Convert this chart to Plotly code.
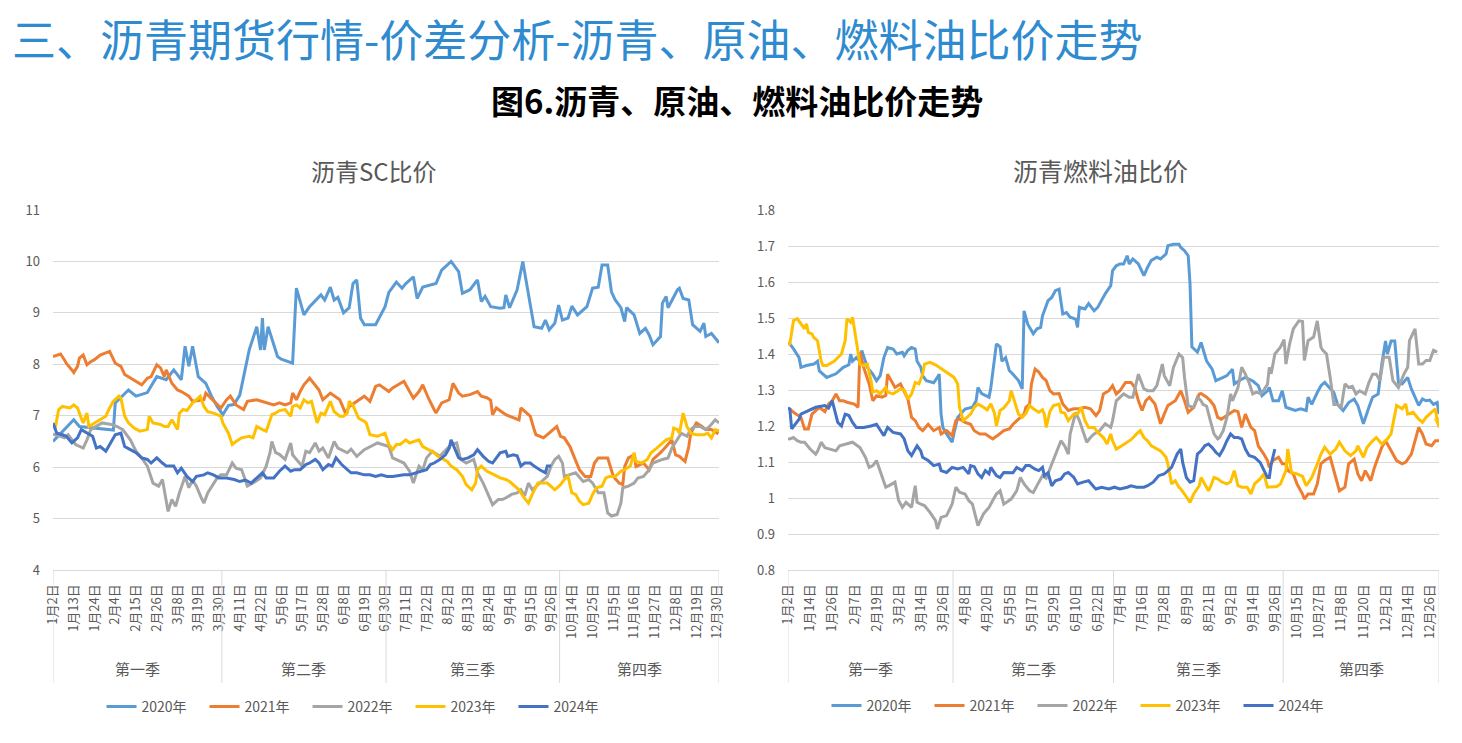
import datetime as dt
import plotly.graph_objects as go

# ---------------- text ----------------
MAIN_TITLE = "三、沥青期货行情-价差分析-沥青、原油、燃料油比价走势"
FIG_TITLE = "图6.沥青、原油、燃料油比价走势"
CHART_TITLES = ["沥青SC比价", "沥青燃料油比价"]
YEARS = ["2020年", "2021年", "2022年", "2023年", "2024年"]
QUARTERS = ["第一季", "第二季", "第三季", "第四季"]

# calendar of categories (2024 calendar, market holidays left out)
YEAR = 2024
FIRST_DAY = (1, 2)
LAST_DAY = (12, 31)
CLOSED_DAYS = [(4, 4), (5, 1), (5, 2), (5, 3),
               (10, 1), (10, 2), (10, 3), (10, 4), (10, 5), (10, 6), (10, 7)]
SC_TICK_EVERY = 11
FO_TICK_EVERY = 12

SC_YTICKS = [4, 5, 6, 7, 8, 9, 10, 11]
FO_YTICKS = [0.8, 0.9, 1.0, 1.1, 1.2, 1.3, 1.4, 1.5, 1.6, 1.7, 1.8]
FO_YTEXT = ["0.8", "0.9", "1", "1.1", "1.2", "1.3", "1.4", "1.5", "1.6", "1.7", "1.8"]

# ---------------- data: (category day number, value) ----------------
SC_2020 = [(0,6.50),(11,6.92),(14,6.79),(32,6.72),(33,7.25),(40,7.50),(44,7.38),(50,7.45),(55,7.76),(60,7.70),
           (64,7.89),(68,7.70),(70,8.35),(72,7.96),(74,8.35),(77,7.76),(81,7.63),(84,7.38),(87,7.18),(90,7.02),
           (93,7.20),(96,7.22),(99,7.40),(104,8.28),(108,8.73),(110,8.28),(111,8.90),(112,8.28),(114,8.73),(116,8.50),
           (119,8.15),(121,8.10),(127,8.02),(129,9.48),(133,8.96),(136,9.12),(142,9.35),(144,9.25),(147,9.50),(149,9.25),
           (151,9.30),(154,9.00),(157,9.10),(159,9.57),(161,9.64),(163,8.90),(165,8.77),(171,8.77),(176,9.12),(178,9.40),
           (182,9.60),(185,9.48),(187,9.57),(191,9.70),(193,9.28),(196,9.50),(203,9.57),(206,9.83),(211,10.0),(215,9.80),
           (217,9.38),(221,9.45),(225,9.64),(227,9.22),(229,9.32),(232,9.12),(237,9.09),(239,9.10),(240,9.35),(242,9.10),
           (246,9.45),(249,10.0),(254,9.00),(255,8.73),(259,8.70),(261,8.86),(263,8.67),(266,8.80),(268,9.15),(270,8.86),
           (273,8.90),(275,9.13),(278,8.96),(283,9.12),(286,9.48),(289,9.50),(291,9.93),(294,9.93),(296,9.41),(298,9.25),
           (301,9.10),(303,8.83),(304,9.10),(308,8.96),(311,8.60),(314,8.70),(316,8.57),(318,8.38),(322,8.54),(323,9.19),
           (325,9.32),(326,9.10),(331,9.45),(332,9.48),(334,9.28),(337,9.25),(339,8.77),(343,8.64),(345,8.80),(346,8.54),
           (349,8.60),(353,8.42)]
SC_2021 = [(0,8.15),(2,8.18),(4,8.20),(6,8.09),(7,8.02),(10,7.89),(11,7.84),(13,7.96),(14,8.12),(16,8.18),(18,7.99),
           (20,8.05),(22,8.09),(25,8.18),(28,8.22),(30,8.25),(33,8.02),(36,7.96),(38,7.80),(41,7.73),(44,7.67),
           (47,7.60),(50,7.73),(52,7.76),(55,7.99),(57,7.93),(59,7.76),(60,7.89),(63,7.63),(66,7.50),(68,7.47),
           (72,7.38),(74,7.28),(80,7.31),(81,7.44),(89,7.15),(92,7.31),(94,7.38),(97,7.21),(101,7.12),(103,7.28),
           (108,7.31),(117,7.21),(120,7.25),(123,7.21),(126,7.25),(127,7.44),(129,7.31),(131,7.47),(133,7.60),(136,7.73),
           (138,7.63),(141,7.50),(143,7.31),(147,7.44),(152,7.31),(155,7.05),(157,7.18),(161,7.28),(165,7.38),(168,7.28),
           (171,7.57),(173,7.60),(178,7.47),(180,7.54),(186,7.67),(191,7.34),(194,7.47),(196,7.60),(199,7.34),(202,7.12),
           (203,7.05),(206,7.25),(210,7.31),(212,7.63),(215,7.44),(217,7.38),(221,7.41),(225,7.47),(227,7.38),(230,7.35),
           (232,7.30),(233,7.02),(235,7.15),(240,7.02),(247,6.92),(248,7.15),(253,6.99),(255,6.73),(256,6.63),(260,6.57),
           (263,6.66),(267,6.79),(269,6.60),(271,6.57),(274,6.40),(277,6.15),(279,5.95),(282,5.82),(285,5.82),(287,6.08),
           (289,6.18),(294,6.18),(297,5.82),(300,5.69),(302,5.66),(303,6.01),(305,6.18),(308,6.24),(309,6.01),(313,6.08),
           (316,5.95),(318,6.15),(322,6.28),(325,6.40),(328,6.53),(330,6.24),(332,6.21),(335,6.11),(337,6.40),(338,6.66),
           (341,6.86),(344,6.79),(346,6.73),(349,6.73),(352,6.66),(353,6.73)]
SC_2022 = [(0,6.65),(1,6.63),(4,6.60),(6,6.57),(8,6.63),(10,6.53),(12,6.44),(16,6.37),(18,6.53),(20,6.73),(26,6.86),
           (31,6.83),(34,6.79),(37,6.73),(41,6.53),(44,6.31),(47,6.18),(50,6.02),(53,5.69),(56,5.63),(58,5.76),
           (61,5.14),(63,5.37),(65,5.24),(67,5.50),(70,5.82),(72,5.60),(74,5.75),(76,5.63),(79,5.37),(80,5.30),
           (82,5.50),(85,5.66),(87,5.79),(89,5.85),(92,5.85),(95,6.08),(97,5.98),(100,5.95),(103,5.63),(106,5.69),
           (110,5.79),(113,6.02),(115,6.28),(116,6.50),(118,6.28),(120,6.25),(123,6.15),(126,6.47),(127,6.24),(132,6.02),
           (134,6.31),(136,6.28),(139,6.47),(141,6.31),(143,6.37),(146,6.18),(149,6.50),(151,6.37),(156,6.28),(158,6.35),
           (161,6.21),(165,6.34),(172,6.47),(178,6.40),(180,6.18),(186,6.08),(189,5.92),(191,5.69),(194,6.02),(196,5.95),
           (198,6.18),(201,6.31),(205,6.21),(211,6.44),(214,6.47),(216,6.15),(219,6.08),(223,6.15),(225,5.89),(228,5.69),
           (232,5.34),(233,5.27),(236,5.37),(238,5.37),(240,5.40),(243,5.47),(246,5.50),(248,5.56),(250,5.44),(252,5.69),
           (254,5.56),(259,5.72),(262,5.82),(264,6.02),(266,6.15),(268,6.21),(270,6.08),(271,5.82),(277,5.89),(281,5.72),
           (284,5.76),(286,5.69),(289,5.50),(292,5.50),(294,5.11),(296,5.05),(299,5.08),(301,5.30),(302,5.60),(305,5.63),
           (308,5.69),(310,5.79),(313,5.82),(316,5.95),(318,6.08),(323,6.15),(326,6.18),(328,6.37),(331,6.53),(333,6.66),
           (336,6.60),(338,6.73),(340,6.79),(343,6.79),(346,6.73),(348,6.79),(351,6.92),(353,6.86)]
SC_2023 = [(1,6.73),(3,7.12),(5,7.18),(9,7.15),(11,7.21),(13,7.15),(15,6.95),(16,6.86),(18,7.05),(19,6.79),(22,6.86),
           (28,6.99),(30,7.15),(32,7.28),(35,7.38),(36,7.34),(38,6.99),(40,6.86),(43,6.76),(46,6.70),(50,6.73),
           (51,6.99),(53,6.86),(57,6.83),(59,6.79),(61,6.79),(63,6.92),(66,6.73),(67,7.05),(69,7.12),(71,7.10),
           (73,7.21),(74,7.25),(76,7.31),(78,7.38),(80,7.18),(82,7.08),(85,7.05),(89,6.99),(90,6.86),(93,6.66),
           (95,6.44),(97,6.50),(100,6.57),(104,6.60),(106,6.57),(108,6.79),(111,6.73),(113,6.70),(116,7.02),(118,7.05),
           (120,7.10),(123,7.12),(126,6.99),(127,7.18),(129,7.21),(131,7.15),(133,7.31),(135,7.25),(137,7.28),(140,6.86),
           (142,7.05),(144,7.02),(147,7.28),(149,7.08),(152,6.99),(154,6.99),(156,7.05),(157,7.28),(159,7.20),(162,6.95),
           (165,6.89),(166,6.86),(168,6.63),(172,6.60),(176,6.66),(178,6.44),(180,6.34),(182,6.44),(184,6.44),(187,6.53),
           (189,6.47),(191,6.50),(194,6.53),(196,6.40),(199,6.34),(202,6.28),(204,6.21),(209,6.11),(211,6.02),(214,5.95),
           (217,5.82),(219,5.66),(222,5.56),(224,5.69),(225,5.95),(227,6.02),(230,5.92),(232,5.89),(234,5.85),(237,5.79),
           (240,5.76),(242,5.72),(245,5.63),(247,5.56),(249,5.44),(252,5.30),(254,5.47),(257,5.69),(262,5.69),(264,5.63),
           (266,5.56),(269,5.66),(271,5.76),(273,5.82),(275,5.50),(277,5.47),(279,5.34),(281,5.27),(284,5.30),(286,5.47),
           (288,5.60),(291,5.63),(293,5.79),(295,5.82),(298,5.82),(301,5.92),(303,5.95),(306,6.02),(308,6.28),(309,6.11),
           (312,6.08),(315,6.15),(317,6.28),(320,6.37),(323,6.47),(325,6.53),(328,6.57),(329,6.76),(331,6.73),(332,6.66),
           (334,7.05),(336,6.79),(338,6.66),(341,6.63),(345,6.63),(347,6.66),(349,6.57),(351,6.73),(353,6.70)]
SC_2024 = [(0,6.86),(2,6.66),(5,6.63),(7,6.60),(10,6.47),(13,6.57),(15,6.73),(18,6.66),(21,6.60),(23,6.37),(25,6.40),
           (28,6.31),(30,6.44),(33,6.63),(36,6.66),(38,6.40),(41,6.34),(44,6.28),(47,6.18),(50,6.15),(52,6.08),
           (55,6.18),(58,6.08),(60,6.02),(64,6.02),(66,5.89),(68,5.98),(71,5.82),(74,5.72),(76,5.82),(80,5.85),
           (82,5.89),(85,5.85),(88,5.79),(92,5.79),(96,5.76),(99,5.72),(102,5.75),(105,5.69),(108,5.79),(111,5.89),
           (113,5.79),(117,5.79),(120,5.92),(123,6.02),(126,5.92),(128,5.95),(131,5.95),(134,6.05),(136,6.08),(139,6.15),
           (141,6.08),(143,5.95),(146,6.05),(148,6.02),(150,6.18),(153,6.05),(156,5.95),(158,5.89),(161,5.89),(165,5.85),
           (168,5.85),(171,5.82),(174,5.85),(177,5.82),(180,5.82),(186,5.85),(189,5.85),(192,5.89),(195,5.92),(198,5.95),
           (200,6.05),(202,6.08),(205,6.15),(208,6.24),(210,6.37),(211,6.53),(213,6.37),(215,6.18),(217,6.15),(220,6.18),
           (223,6.24),(225,6.34),(228,6.21),(231,6.11),(233,6.08),(236,6.24),(237,6.28),(240,6.31),(241,6.21),(244,6.24),
           (246,6.22),(248,6.02),(250,6.08),(253,6.08),(255,6.02),(258,5.95),(261,5.89),(262,6.02),(264,6.02)]

FO_2020 = [(0,1.43),(1,1.428),(3,1.414),(6,1.39),(7,1.363),(10,1.368),(14,1.372),(16,1.38),(17,1.353),(21,1.335),
           (26,1.345),(30,1.363),(33,1.37),(34,1.40),(35,1.38),(37,1.39),(39,1.38),(40,1.41),(43,1.363),(46,1.344),
           (48,1.326),(50,1.34),(52,1.39),(54,1.418),(57,1.414),(59,1.40),(62,1.405),(63,1.395),(65,1.41),(67,1.418),
           (69,1.414),(70,1.38),(72,1.363),(73,1.34),(75,1.326),(79,1.32),(81,1.335),(82,1.344),(83,1.233),(84,1.196),
           (86,1.178),(89,1.155),(90,1.18),(92,1.224),(96,1.247),(100,1.252),(102,1.27),(103,1.307),(105,1.29),(109,1.28),
           (110,1.307),(111,1.344),(113,1.428),(115,1.42),(116,1.38),(118,1.39),(120,1.354),(122,1.344),(125,1.326),
           (127,1.303),(128,1.52),(130,1.483),(133,1.456),(135,1.47),(137,1.474),(138,1.506),(141,1.548),(143,1.557),
           (145,1.576),(147,1.58),(149,1.511),(151,1.515),(153,1.502),(156,1.497),(157,1.474),(158,1.53),(161,1.525),
           (163,1.54),(166,1.52),(168,1.53),(172,1.567),(175,1.59),(176,1.632),(178,1.645),(180,1.65),(182,1.65),
           (184,1.673),(185,1.65),(187,1.664),(190,1.65),(193,1.618),(195,1.641),(197,1.66),(200,1.669),(202,1.664),
           (205,1.678),(206,1.701),(209,1.705),(212,1.705),(213,1.696),(215,1.687),(217,1.673),(218,1.595),(219,1.42),
           (222,1.405),(224,1.432),(227,1.38),(230,1.358),(232,1.326),(236,1.335),(238,1.34),(241,1.358),(242,1.317),
           (246,1.33),(248,1.335),(252,1.325),(255,1.312),(257,1.284),(260,1.298),(261,1.307),(263,1.27),(266,1.27),
           (268,1.298),(270,1.252),(272,1.248),(275,1.243),(278,1.248),(281,1.243),(282,1.28),(284,1.26),(287,1.293),
           (289,1.312),(291,1.321),(293,1.31),(296,1.293),(298,1.26),(301,1.243),(304,1.265),(307,1.275),(309,1.257),
           (312,1.206),(315,1.252),(317,1.28),(320,1.289),(322,1.372),(324,1.436),(325,1.40),(327,1.436),(329,1.436),
           (331,1.321),(333,1.317),(336,1.335),(338,1.303),(342,1.257),(344,1.275),(346,1.27),(348,1.272),(350,1.26),
           (352,1.265),(353,1.233)]
FO_2021 = [(0,1.25),(1,1.247),(3,1.238),(7,1.224),(9,1.192),(11,1.192),(13,1.233),(15,1.243),(17,1.252),(20,1.24),
           (22,1.261),(24,1.27),(26,1.289),(28,1.27),(30,1.27),(32,1.266),(36,1.261),(38,1.252),(39,1.405),(41,1.363),
           (44,1.317),(46,1.27),(48,1.284),(51,1.28),(53,1.285),(54,1.344),(56,1.326),(58,1.307),(61,1.317),(63,1.298),
           (65,1.275),(67,1.224),(69,1.215),(71,1.196),(73,1.187),(76,1.205),(79,1.187),(82,1.196),(83,1.178),(86,1.187),
           (89,1.173),(91,1.215),(93,1.22),(96,1.21),(99,1.205),(101,1.187),(104,1.178),(107,1.178),(110,1.169),
           (111,1.164),(114,1.175),(117,1.187),(120,1.192),(122,1.205),(125,1.219),(128,1.233),(129,1.252),(131,1.261),
           (132,1.317),(134,1.358),(136,1.35),(138,1.335),(140,1.326),(142,1.298),(144,1.289),(147,1.29),(149,1.261),
           (152,1.243),(155,1.248),(158,1.248),(161,1.252),(164,1.248),(167,1.229),(169,1.243),(171,1.289),(174,1.298),
           (176,1.312),(178,1.289),(180,1.298),(183,1.321),(186,1.321),(188,1.307),(190,1.27),(192,1.243),(194,1.27),
           (196,1.28),(199,1.261),(202,1.206),(204,1.233),(206,1.257),(210,1.27),(213,1.298),(215,1.27),(217,1.238),
           (220,1.252),(223,1.289),(224,1.29),(227,1.28),(229,1.27),(231,1.257),(233,1.224),(235,1.219),(239,1.233),
           (242,1.243),(244,1.24),(246,1.196),(248,1.233),(251,1.196),(253,1.187),(255,1.145),(258,1.122),(260,1.104),
           (261,1.085),(263,1.104),(266,1.113),(268,1.095),(270,1.095),(271,1.076),(274,1.067),(276,1.039),(279,1.011),
           (280,0.997),(282,1.011),(285,1.011),(287,1.039),(289,1.095),(291,1.104),(294,1.113),(297,1.057),(299,1.02),
           (302,1.03),(304,1.095),(307,1.108),(309,1.067),(311,1.048),(313,1.076),(316,1.048),(318,1.085),(322,1.141),
           (324,1.159),(326,1.141),(330,1.104),(333,1.095),(335,1.10),(338,1.122),(342,1.196),(344,1.178),(346,1.15),
           (349,1.145),(351,1.159),(353,1.159)]
FO_2022 = [(0,1.165),(1,1.164),(3,1.168),(5,1.159),(7,1.155),(9,1.155),(12,1.136),(15,1.122),(16,1.13),(18,1.155),
           (20,1.14),(23,1.136),(26,1.131),(28,1.145),(32,1.15),(35,1.155),(39,1.14),(42,1.113),(44,1.085),(46,1.09),
           (48,1.104),(53,1.03),(55,1.035),(58,1.044),(60,0.993),(62,0.974),(64,0.988),(67,0.974),(69,1.034),(70,0.988),
           (72,0.983),(74,0.979),(77,0.96),(80,0.937),(81,0.914),(83,0.946),(86,0.951),(89,0.983),(91,1.03),(93,1.016),
           (96,1.011),(98,0.993),(100,0.983),(103,0.923),(106,0.956),(109,0.974),(111,0.993),(113,1.011),(115,1.02),
           (117,0.983),(121,0.997),(124,1.02),(126,1.057),(128,1.039),(131,1.02),(133,1.015),(136,1.044),(138,1.062),
           (140,1.055),(143,1.094),(145,1.122),(147,1.15),(148,1.159),(150,1.145),(152,1.122),(153,1.178),(155,1.224),
           (156,1.238),(158,1.215),(160,1.187),(162,1.155),(164,1.168),(166,1.178),(169,1.187),(172,1.206),(175,1.196),
           (176,1.215),(178,1.27),(180,1.28),(182,1.289),(185,1.28),(187,1.28),(190,1.344),(193,1.303),(195,1.298),
           (198,1.298),(200,1.312),(203,1.372),(204,1.34),(207,1.312),(209,1.363),(212,1.40),(214,1.39),(215,1.335),
           (217,1.256),(220,1.252),(222,1.28),(224,1.27),(225,1.26),(227,1.255),(229,1.215),(231,1.178),(233,1.164),
           (234,1.168),(236,1.187),(238,1.224),(240,1.289),(241,1.27),(244,1.307),(246,1.363),(248,1.344),(250,1.321),
           (252,1.289),(254,1.294),(256,1.29),(258,1.30),(260,1.316),(261,1.363),(262,1.345),(264,1.40),(267,1.419),
           (269,1.44),(270,1.372),(272,1.428),(274,1.47),(277,1.492),(279,1.49),(280,1.382),(282,1.437),(285,1.447),
           (287,1.492),(289,1.419),(290,1.41),(292,1.40),(294,1.335),(296,1.26),(298,1.26),(300,1.252),(302,1.317),
           (304,1.307),(306,1.31),(308,1.289),(310,1.298),(313,1.289),(315,1.321),(317,1.344),(319,1.344),(321,1.326),
           (323,1.391),(326,1.391),(328,1.326),(331,1.307),(334,1.344),(336,1.363),(337,1.437),(340,1.47),(342,1.372),
           (344,1.372),(346,1.382),(348,1.382),(350,1.41),(352,1.405)]
FO_2023 = [(0,1.425),(1,1.428),(3,1.493),(5,1.498),(7,1.484),(9,1.47),(10,1.484),(11,1.46),(13,1.456),(14,1.446),
           (16,1.437),(17,1.41),(18,1.38),(19,1.368),(21,1.368),(25,1.38),(29,1.40),(31,1.437),(32,1.498),(34,1.488),
           (35,1.502),(37,1.437),(39,1.372),(41,1.368),(43,1.372),(45,1.326),(46,1.294),(48,1.298),(50,1.289),(53,1.307),
           (54,1.294),(57,1.289),(61,1.303),(63,1.30),(65,1.275),(67,1.289),(69,1.321),(71,1.317),(73,1.344),(74,1.372),
           (77,1.377),(80,1.37),(82,1.363),(85,1.354),(88,1.344),(90,1.335),(92,1.317),(93,1.252),(95,1.215),(97,1.224),
           (99,1.233),(101,1.252),(103,1.261),(106,1.252),(108,1.245),(110,1.262),(112,1.235),(113,1.20),(115,1.243),
           (117,1.25),(120,1.27),(121,1.298),(123,1.266),(125,1.233),(127,1.224),(129,1.235),(131,1.257),(133,1.248),
           (136,1.238),(138,1.245),(139,1.233),(140,1.196),(142,1.24),(144,1.257),(147,1.261),(148,1.238),(150,1.236),
           (152,1.215),(155,1.233),(157,1.233),(159,1.252),(161,1.215),(163,1.196),(166,1.196),(168,1.182),(171,1.168),
           (173,1.15),(175,1.178),(176,1.159),(178,1.136),(181,1.145),(184,1.155),(186,1.162),(189,1.178),(191,1.187),
           (193,1.168),(195,1.159),(197,1.145),(199,1.14),(202,1.131),(205,1.113),(206,1.094),(208,1.039),(210,1.048),
           (212,1.03),(213,1.025),(215,1.011),(218,0.988),(220,1.011),(223,1.034),(224,1.057),(226,1.039),(228,1.02),
           (229,1.03),(231,1.057),(233,1.053),(235,1.045),(238,1.039),(240,1.045),(242,1.076),(244,1.034),(246,1.03),
           (249,1.03),(251,1.011),(253,1.039),(256,1.053),(258,1.067),(260,1.03),(262,1.03),(265,1.032),(267,1.039),
           (270,1.076),(271,1.136),(273,1.071),(276,1.067),(279,1.06),(281,1.034),(284,1.057),(287,1.094),(289,1.122),
           (291,1.141),(294,1.122),(297,1.136),(299,1.155),(302,1.131),(305,1.118),(308,1.131),(309,1.145),(312,1.113),
           (314,1.141),(317,1.159),(319,1.168),(322,1.15),(325,1.164),(327,1.178),(330,1.257),(333,1.248),(335,1.261),
           (336,1.233),(339,1.238),(342,1.219),(344,1.21),(346,1.224),(349,1.238),(351,1.248),(352,1.215),(353,1.196)]
FO_2024 = [(0,1.25),(1,1.247),(2,1.192),(4,1.205),(6,1.219),(7,1.233),(11,1.243),(15,1.252),(20,1.257),(22,1.25),
           (24,1.27),(26,1.233),(27,1.21),(29,1.20),(31,1.233),(33,1.229),(35,1.21),(37,1.196),(41,1.196),(45,1.20),
           (48,1.205),(52,1.173),(54,1.196),(57,1.182),(61,1.178),(63,1.164),(65,1.131),(67,1.118),(70,1.145),(72,1.131),
           (73,1.113),(76,1.104),(79,1.09),(82,1.094),(83,1.076),(86,1.071),(89,1.085),(92,1.081),(95,1.085),(98,1.067),
           (99,1.09),(101,1.087),(103,1.067),(105,1.057),(107,1.076),(109,1.067),(110,1.085),(113,1.062),(115,1.057),
           (117,1.071),(120,1.07),(122,1.07),(124,1.085),(127,1.076),(129,1.09),(131,1.09),(134,1.08),(136,1.076),
           (138,1.085),(139,1.062),(141,1.07),(143,1.034),(145,1.048),(148,1.053),(150,1.067),(152,1.071),(155,1.057),
           (157,1.039),(160,1.044),(163,1.048),(166,1.03),(167,1.025),(170,1.03),(174,1.025),(177,1.03),(180,1.025),
           (184,1.03),(186,1.034),(189,1.03),(193,1.03),(195,1.034),(198,1.044),(201,1.062),(204,1.067),(205,1.071),
           (208,1.085),(211,1.122),(213,1.136),(214,1.099),(216,1.057),(218,1.044),(220,1.048),(222,1.122),(224,1.131),
           (226,1.145),(228,1.15),(230,1.14),(232,1.127),(234,1.118),(236,1.136),(238,1.159),(240,1.178),(242,1.168),
           (244,1.168),(246,1.164),(248,1.136),(250,1.118),(253,1.113),(256,1.099),(258,1.076),(260,1.057),(261,1.057),
           (262,1.094),(264,1.136)]

SC_SERIES = [SC_2020, SC_2021, SC_2022, SC_2023, SC_2024]
FO_SERIES = [FO_2020, FO_2021, FO_2022, FO_2023, FO_2024]
FO_ARROW_YEAR = "2023年"   # this series ends with an arrowhead in the original

# ---------------- style ----------------
COLORS = ["#5B9BD5", "#ED7D31", "#A5A5A5", "#FFC000", "#4472C4"]
GRID = "#D9D9D9"
TEXT = "#595959"
FONT = "Noto Sans CJK SC"
W, H = 1462, 743

# ---------------- category calendar ----------------
cats = []
d = dt.date(YEAR, *FIRST_DAY)
while d <= dt.date(YEAR, *LAST_DAY):
    if (d.month, d.day) not in CLOSED_DAYS:
        cats.append(d)
    d += dt.timedelta(days=1)
labels = [f"{c.month}月{c.day}日" for c in cats]
last = len(cats) - 1
q_start = [next(i for i, c in enumerate(cats) if (c.month - 1) // 3 == q) for q in range(4)]
q_edges = [0] + [s - 0.5 for s in q_start[1:]] + [last]


def px_x(p):
    return p / W


def px_y(p):
    return 1 - p / H


fig = go.Figure()

for name, color, sc in zip(YEARS, COLORS, SC_SERIES):
    xs, ys = zip(*sc)
    fig.add_trace(go.Scatter(x=list(xs), y=list(ys), mode="lines", name=name,
                             line=dict(color=color, width=3), legend="legend",
                             xaxis="x", yaxis="y",
                             hovertext=[labels[i] for i in xs], hoverinfo="text+y"))
for name, color, fo in zip(YEARS, COLORS, FO_SERIES):
    xs, ys = zip(*fo)
    tr = dict(x=list(xs), y=list(ys), mode="lines", name=name,
              line=dict(color=color, width=3), legend="legend2",
              xaxis="x2", yaxis="y2",
              hovertext=[labels[i] for i in xs], hoverinfo="text+y")
    if name == FO_ARROW_YEAR:
        tr["mode"] = "lines+markers"
        tr["marker"] = dict(symbol="arrow", angleref="previous", color=color,
                            size=[0] * (len(xs) - 1) + [10], line=dict(width=0))
    fig.add_trace(go.Scatter(**tr))

plot_top, plot_bot = 210, 570
dom_y = [px_y(plot_bot), px_y(plot_top)]
sep_bottom = px_y(683)

xcommon = dict(range=[0, last], showgrid=False, zeroline=False, showline=True,
               linecolor=GRID, linewidth=1, ticks="", tickangle=-90, automargin=False,
               tickfont=dict(family=FONT, size=13, color=TEXT), ticklabelstandoff=8)
ycommon = dict(showgrid=True, gridcolor=GRID, gridwidth=1, zeroline=False, showline=False,
               ticks="", automargin=False,
               tickfont=dict(family=FONT, size=13, color=TEXT), ticklabelstandoff=12)

sc_ticks = list(range(0, last, SC_TICK_EVERY))
fo_ticks = list(range(0, last, FO_TICK_EVERY))

fig.update_layout(
    width=W, height=H, margin=dict(l=0, r=0, t=0, b=0, autoexpand=False),
    paper_bgcolor="white", plot_bgcolor="white",
    font=dict(family=FONT, color=TEXT),
    xaxis=dict(domain=[px_x(53), px_x(719)], anchor="y",
               tickvals=sc_ticks, ticktext=[labels[i] for i in sc_ticks], **xcommon),
    yaxis=dict(domain=dom_y, anchor="x", range=[SC_YTICKS[0], SC_YTICKS[-1]],
               tickvals=SC_YTICKS, ticktext=[str(v) for v in SC_YTICKS], **ycommon),
    xaxis2=dict(domain=[px_x(788), px_x(1439)], anchor="y2",
                tickvals=fo_ticks, ticktext=[labels[i] for i in fo_ticks], **xcommon),
    yaxis2=dict(domain=dom_y, anchor="x2", range=[FO_YTICKS[0], FO_YTICKS[-1]],
                tickvals=FO_YTICKS, ticktext=FO_YTEXT, **ycommon),
    legend=dict(orientation="h", x=px_x(359), y=px_y(707), xanchor="center", yanchor="middle",
                font=dict(family=FONT, size=14, color=TEXT), entrywidth=58, entrywidthmode="pixels",
                bgcolor="rgba(0,0,0,0)"),
    legend2=dict(orientation="h", x=px_x(1084), y=px_y(706), xanchor="center", yanchor="middle",
                 font=dict(family=FONT, size=14, color=TEXT), entrywidth=58, entrywidthmode="pixels",
                 bgcolor="rgba(0,0,0,0)"),
    showlegend=True,
)

annotations = [
    dict(text=MAIN_TITLE, xref="paper", yref="paper", x=px_x(10), y=px_y(38),
         xanchor="left", yanchor="middle", showarrow=False,
         font=dict(family=FONT, size=44, color="#2F8BD0")),
    dict(text=f"<b>{FIG_TITLE}</b>", xref="paper", yref="paper", x=px_x(737), y=px_y(100),
         xanchor="center", yanchor="middle", showarrow=False,
         font=dict(family=FONT, size=33, color="#000000")),
    dict(text=CHART_TITLES[0], xref="paper", yref="paper", x=px_x(374), y=px_y(170),
         xanchor="center", yanchor="middle", showarrow=False,
         font=dict(family=FONT, size=24, color=TEXT)),
    dict(text=CHART_TITLES[1], xref="paper", yref="paper", x=px_x(1100), y=px_y(170),
         xanchor="center", yanchor="middle", showarrow=False,
         font=dict(family=FONT, size=25, color=TEXT)),
]
shapes = []
for xref in ["x", "x2"]:
    for e in q_edges:
        shapes.append(dict(type="line", xref=xref, yref="paper", x0=e, x1=e,
                           y0=dom_y[0], y1=sep_bottom, line=dict(color=GRID, width=1)))
    for q, name in enumerate(QUARTERS):
        annotations.append(dict(text=name, xref=xref, yref="paper",
                                x=(q_edges[q] + q_edges[q + 1]) / 2, y=px_y(668),
                                xanchor="center", yanchor="middle", showarrow=False,
                                font=dict(family=FONT, size=15, color=TEXT)))

fig.update_layout(annotations=annotations, shapes=shapes)
fig.write_html("out.html", config={"displayModeBar": False},
               post_script="document.body.style.margin='0';")
